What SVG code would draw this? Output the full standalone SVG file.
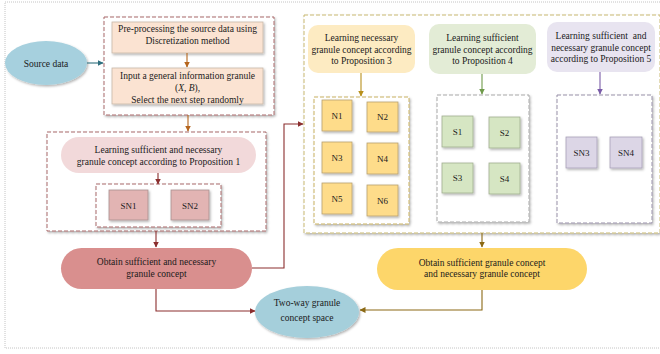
<svg xmlns="http://www.w3.org/2000/svg" width="660" height="354" viewBox="0 0 660 354">
<defs>
<filter id="sh" x="-10%" y="-10%" width="130%" height="140%">
<feDropShadow dx="1.2" dy="1.5" stdDeviation="0.9" flood-color="#000" flood-opacity="0.3"/>
</filter>
<marker id="mOr" viewBox="0 0 6 6" refX="5.5" refY="3" markerWidth="6" markerHeight="6" orient="auto" markerUnits="userSpaceOnUse"><path d="M0,0 L6,3 L0,6 z" fill="#b5651d"/></marker>
<marker id="mRd" viewBox="0 0 6 6" refX="5.5" refY="3" markerWidth="6" markerHeight="6" orient="auto" markerUnits="userSpaceOnUse"><path d="M0,0 L6,3 L0,6 z" fill="#8b2e2e"/></marker>
<marker id="mTl" viewBox="0 0 6 6" refX="5.5" refY="3" markerWidth="6" markerHeight="6" orient="auto" markerUnits="userSpaceOnUse"><path d="M0,0 L6,3 L0,6 z" fill="#2f6f7f"/></marker>
<marker id="mYl" viewBox="0 0 6 6" refX="5.5" refY="3" markerWidth="6" markerHeight="6" orient="auto" markerUnits="userSpaceOnUse"><path d="M0,0 L6,3 L0,6 z" fill="#b8901c"/></marker>
<marker id="mGr" viewBox="0 0 6 6" refX="5.5" refY="3" markerWidth="6" markerHeight="6" orient="auto" markerUnits="userSpaceOnUse"><path d="M0,0 L6,3 L0,6 z" fill="#6f9a4a"/></marker>
<marker id="mPu" viewBox="0 0 6 6" refX="5.5" refY="3" markerWidth="6" markerHeight="6" orient="auto" markerUnits="userSpaceOnUse"><path d="M0,0 L6,3 L0,6 z" fill="#7a5ca8"/></marker>
<marker id="mOl" viewBox="0 0 6 6" refX="5.5" refY="3" markerWidth="6" markerHeight="6" orient="auto" markerUnits="userSpaceOnUse"><path d="M0,0 L6,3 L0,6 z" fill="#8b6914"/></marker>
</defs>
<style>
text{font-family:"Liberation Serif","Times New Roman",serif;font-size:9.5px;fill:#1a1a1a;text-anchor:middle}
.sm{font-size:9px}
.c{fill:none;stroke-width:1.1}
.dash{fill:#fff;stroke-dasharray:4 2;stroke-width:1}
</style>
<rect x="5" y="2" width="660" height="346" fill="#fff" stroke="#c4c4c4" stroke-width="1" stroke-dasharray="1 1"/>

<g id="source-data">
<ellipse cx="46" cy="63" rx="41" ry="22" fill="#a6d0de" filter="url(#sh)"/>
<text x="46" y="66.5">Source data</text>
</g>

<g id="preprocess-group">
<rect x="104" y="17" width="170" height="98" class="dash" stroke="#a8686a" filter="url(#sh)"/>
</g>
<g id="preprocess">
<rect x="112" y="22" width="151" height="31" fill="#fbe3d2" stroke="#c9b8a8" stroke-width="0.8" filter="url(#sh)"/>
<text x="187.5" y="31.5">Pre-processing the source data using</text>
<text x="187.5" y="43.5">Discretization method</text>
</g>
<g id="input-granule">
<rect x="112" y="68" width="151" height="36" fill="#fbe3d2" stroke="#c9b8a8" stroke-width="0.8" filter="url(#sh)"/>
<text x="187.5" y="78.5">Input a general information granule</text>
<text x="187.5" y="90.5">(<tspan font-style="italic">X</tspan>, <tspan font-style="italic">B</tspan>),</text>
<text x="187.5" y="102.5">Select the next step randomly</text>
</g>

<g id="prop1-group">
<rect x="47" y="132" width="219" height="99" class="dash" stroke="#a8686a" filter="url(#sh)"/>
</g>
<g id="prop1">
<rect x="61" y="137" width="195" height="36" rx="18" fill="#f2d9da"/>
<text x="158.5" y="153">Learning sufficient and necessary</text>
<text x="158.5" y="165">granule concept according to Proposition 1</text>
</g>
<g id="sn12-group">
<rect x="96" y="184" width="125" height="43" class="dash" stroke="#a8686a" filter="url(#sh)"/>
</g>
<g id="SN1">
<rect x="109" y="190" width="39" height="30" fill="#e2b4b3" stroke="#a89090" stroke-width="0.8" filter="url(#sh)"/>
<text x="128.5" y="208.5" class="sm">SN1</text>
</g>
<g id="SN2">
<rect x="171" y="190" width="38" height="30" fill="#e2b4b3" stroke="#a89090" stroke-width="0.8" filter="url(#sh)"/>
<text x="190" y="208.5" class="sm">SN2</text>
</g>

<g id="obtain-sn">
<rect x="61" y="248" width="191" height="41" rx="20.5" fill="#d98f8e"/>
<text x="156.5" y="265">Obtain sufficient and necessary</text>
<text x="156.5" y="277">granule concept</text>
</g>

<g id="two-way">
<ellipse cx="307" cy="312" rx="52" ry="26" fill="#a5cfdb" filter="url(#sh)"/>
<text x="307" y="306">Two-way granule</text>
<text x="307" y="320.5">concept space</text>
</g>

<g id="big-group">
<rect x="304" y="15" width="356" height="218" class="dash" stroke="#c8b870" filter="url(#sh)"/>
</g>

<g id="prop3">
<rect x="308" y="25" width="107" height="48" rx="10" fill="#fdebc2"/>
<text x="361.5" y="41">Learning necessary</text>
<text x="361.5" y="53">granule concept according</text>
<text x="361.5" y="64">to Proposition 3</text>
</g>
<g id="prop4">
<rect x="429" y="24" width="107" height="50" rx="10" fill="#e3ecd6"/>
<text x="482.5" y="41">Learning sufficient</text>
<text x="482.5" y="53">granule concept according</text>
<text x="482.5" y="64">to Proposition 4</text>
</g>
<g id="prop5">
<rect x="547" y="22" width="108" height="50" rx="10" fill="#e8e4f0"/>
<text x="601" y="38.5" xml:space="preserve">Learning sufficient  and</text>
<text x="601" y="50.5">necessary granule concept</text>
<text x="601" y="61.5">according to Proposition 5</text>
</g>

<g id="n-group">
<rect x="314" y="97" width="95" height="127" class="dash" stroke="#c8b060" filter="url(#sh)"/>
</g>
<g id="N1"><rect x="322" y="100" width="30" height="31" fill="#fedc8a" stroke="#b8a070" stroke-width="0.8" filter="url(#sh)"/><text x="337" y="118.5" class="sm">N1</text></g>
<g id="N2"><rect x="367" y="102" width="31" height="30" fill="#fedc8a" stroke="#b8a070" stroke-width="0.8" filter="url(#sh)"/><text x="382.5" y="120" class="sm">N2</text></g>
<g id="N3"><rect x="322" y="142" width="30" height="31" fill="#fedc8a" stroke="#b8a070" stroke-width="0.8" filter="url(#sh)"/><text x="337" y="160.5" class="sm">N3</text></g>
<g id="N4"><rect x="367" y="143" width="31" height="31" fill="#fedc8a" stroke="#b8a070" stroke-width="0.8" filter="url(#sh)"/><text x="382.5" y="161.5" class="sm">N4</text></g>
<g id="N5"><rect x="322" y="183" width="30" height="31" fill="#fedc8a" stroke="#b8a070" stroke-width="0.8" filter="url(#sh)"/><text x="337" y="201.5" class="sm">N5</text></g>
<g id="N6"><rect x="367" y="185" width="31" height="31" fill="#fedc8a" stroke="#b8a070" stroke-width="0.8" filter="url(#sh)"/><text x="382.5" y="203.5" class="sm">N6</text></g>

<g id="s-group">
<rect x="437" y="95" width="92" height="127" class="dash" stroke="#a8a8a8" filter="url(#sh)"/>
</g>
<g id="S1"><rect x="442" y="116" width="31" height="31" fill="#d6e6c3" stroke="#a0ae90" stroke-width="0.8" filter="url(#sh)"/><text x="457.5" y="134.5" class="sm">S1</text></g>
<g id="S2"><rect x="489" y="117" width="31" height="31" fill="#d6e6c3" stroke="#a0ae90" stroke-width="0.8" filter="url(#sh)"/><text x="504.5" y="135.5" class="sm">S2</text></g>
<g id="S3"><rect x="442" y="163" width="31" height="30" fill="#d6e6c3" stroke="#a0ae90" stroke-width="0.8" filter="url(#sh)"/><text x="457.5" y="181" class="sm">S3</text></g>
<g id="S4"><rect x="489" y="163" width="31" height="31" fill="#d6e6c3" stroke="#a0ae90" stroke-width="0.8" filter="url(#sh)"/><text x="504.5" y="181.5" class="sm">S4</text></g>

<g id="sn34-group">
<rect x="557" y="95" width="95" height="128" class="dash" stroke="#9890a8" filter="url(#sh)"/>
</g>
<g id="SN3"><rect x="566" y="137" width="31" height="31" fill="#dcd6e6" stroke="#a8a0b8" stroke-width="0.8" filter="url(#sh)"/><text x="581.5" y="155.5" class="sm">SN3</text></g>
<g id="SN4"><rect x="610" y="137" width="32" height="31" fill="#dcd6e6" stroke="#a8a0b8" stroke-width="0.8" filter="url(#sh)"/><text x="626" y="155.5" class="sm">SN4</text></g>

<g id="obtain-s-n">
<rect x="377" y="248" width="210" height="42" rx="21" fill="#fdd66a"/>
<text x="482" y="266">Obtain sufficient granule concept</text>
<text x="482" y="277">and necessary granule concept</text>
</g>

<g id="connectors">
<path class="c" stroke="#2f6f7f" d="M87,63 H103" marker-end="url(#mTl)"/>
<path class="c" stroke="#b5651d" d="M187,53 V67" marker-end="url(#mOr)"/>
<path class="c" stroke="#b5651d" d="M188,115 V131" marker-end="url(#mOr)"/>
<path class="c" stroke="#8b2e2e" d="M158,173 V184" marker-end="url(#mRd)"/>
<path class="c" stroke="#8b2e2e" d="M156,231 V247" marker-end="url(#mRd)"/>
<path class="c" stroke="#8b2e2e" d="M252,268 H284 V124 H303" marker-end="url(#mRd)"/>
<path class="c" stroke="#8b2e2e" d="M156,289 V311 H255" marker-end="url(#mRd)"/>
<path class="c" stroke="#b8901c" d="M361,73 V96" marker-end="url(#mYl)"/>
<path class="c" stroke="#6f9a4a" d="M482,74 V94" marker-end="url(#mGr)"/>
<path class="c" stroke="#7a5ca8" d="M600,72 V94" marker-end="url(#mPu)"/>
<path class="c" stroke="#8b6914" d="M482,233 V247" marker-end="url(#mOl)"/>
<path class="c" stroke="#8b6914" d="M482,290 V310 H360" marker-end="url(#mOl)"/>
</g>
</svg>
